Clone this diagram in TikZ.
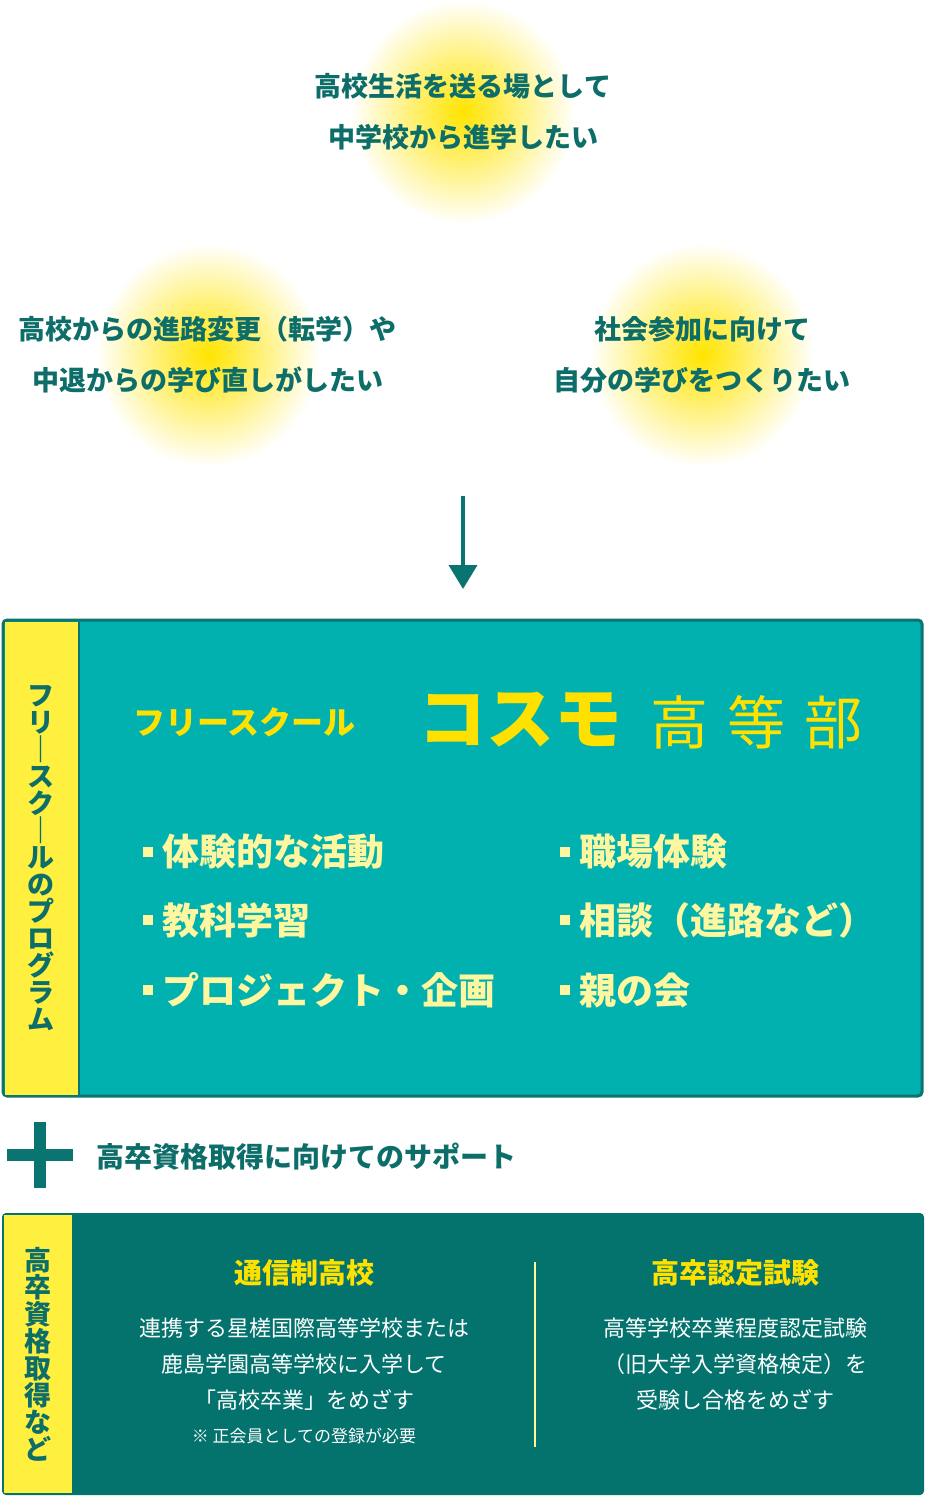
\documentclass[tikz,border=0pt]{standalone}
\usepackage{fontspec}
\newfontfamily\jp{Noto Sans CJK JP}
\usetikzlibrary{arrows.meta}
\definecolor{tealdk}{HTML}{0D6E69}
\definecolor{tealbox}{HTML}{00B1B0}
\definecolor{tealbord}{HTML}{0A7470}
\definecolor{greenbox}{HTML}{04736E}
\definecolor{stripy}{HTML}{FFF03F}
\definecolor{titley}{HTML}{FFE100}
\definecolor{paley}{HTML}{FFF6A0}
\definecolor{glowy}{HTML}{FFE400}
\newcommand{\fs}[1]{\fontsize{#1}{#1}\selectfont}
\tikzset{
 glowtxt/.style={text=tealdk, font=\jp\bfseries\fs{27}, align=center, inner sep=0pt},
 listtxt/.style={text=paley, font=\jp\bfseries\fs{37}, anchor=west, inner sep=0pt},
 vtxt/.style={text=tealdk, font=\jp\bfseries\fs{27}, align=center, inner sep=0pt},
 head/.style={text=titley, font=\jp\bfseries\fs{28}, inner sep=0pt},
 body/.style={text=white, font=\jp\fs{22}, inner sep=0pt},
}
\begin{document}
\begin{tikzpicture}[x=1pt,y=-1pt]
\useasboundingbox (0,0) rectangle (926,1497);
% glows
\foreach \cx/\cy in {463/112,208/355,702/355}{
 \shade[inner color=glowy, outer color=white] (\cx,\cy) circle (112);
}
\node[glowtxt] (g1) at (463,112) {高校生活を送る場として\\[24pt]中学校から進学したい};
\node[glowtxt] (g2) at (208,355) {高校からの進路変更（転学）や\\[24pt]中退からの学び直しがしたい};
\node[glowtxt] (g3) at (702,355) {社会参加に向けて\\[24pt]自分の学びをつくりたい};
% arrow
\coordinate (a1) at (463,496);
\coordinate (a2) at (463,589);
\draw[tealbord, line width=4pt, -{Triangle[width=28pt,length=24pt]}] (a1) -- (a2);
% top box
\draw[fill=tealbox, draw=tealbord, line width=3pt, rounded corners=4pt] (3,620) rectangle (922,1096);
\fill[stripy] (4.5,621.5) rectangle (78,1094.5);
\draw[tealbord, line width=2pt] (79,621.5) -- (79,1094.5);
\node[vtxt] (v1) at (41,858) {フ\\リ\\｜\\ス\\ク\\｜\\ル\\の\\プ\\ロ\\グ\\ラ\\ム};
\node[text=titley, font=\jp\bfseries\fs{32}, anchor=west, inner sep=0pt] (t1) at (133,722) {フリースクール};
\node[text=titley, font=\jp\bfseries\fs{68}, anchor=west, inner sep=0pt] (t2) at (418,720) {コスモ};
\node[text=titley, font=\jp\fs{58}, anchor=west, inner sep=0pt] (t3) at (650,722) {高\,\,等\,\,部};
\foreach \y/\txt [count=\i] in {852/体験的な活動,920/教科学習,990/プロジェクト・企画}{
 \fill[paley] (143,\y-5) rectangle ++(10,10);
 \node[listtxt] (l\i) at (162,\y) {\txt};
}
\foreach \y/\txt [count=\i] in {852/職場体験,920/相談（進路など）,990/親の会}{
 \fill[paley] (560,\y-5) rectangle ++(10,10);
 \node[listtxt] (r\i) at (579,\y) {\txt};
}
% plus
\fill[tealbord] (7,1149) rectangle (73,1161);
\fill[tealbord] (34,1122) rectangle (46,1188);
\node[text=tealdk, font=\jp\bfseries\fs{28}, anchor=west, inner sep=0pt] (sup) at (96,1157) {高卒資格取得に向けてのサポート};
% bottom box
\fill[greenbox, rounded corners=4pt] (2,1213) rectangle (924,1495);
\fill[stripy] (4,1215) rectangle (72,1493);
\node[vtxt] (v2) at (38,1354) {高\\卒\\資\\格\\取\\得\\な\\ど};
\coordinate (d1) at (535,1262);
\coordinate (d2) at (535,1447);
\draw[paley, line width=2.5pt] (d1) -- (d2);
\node[head] (h1) at (304,1273) {通信制高校};
\node[head] (h2) at (735,1273) {高卒認定試験};
\node[body] (b1) at (304,1328) {連携する星槎国際高等学校または};
\node[body] (b2) at (304,1364) {鹿島学園高等学校に入学して};
\node[body] (b3) at (304,1400) {「高校卒業」をめざす};
\node[body, font=\jp\fs{17}] (b4) at (304,1436) {※ 正会員としての登録が必要};
\node[body] (c1) at (735,1328) {高等学校卒業程度認定試験};
\node[body] (c2) at (735,1364) {（旧大学入学資格検定）を};
\node[body] (c3) at (735,1400) {受験し合格をめざす};
\end{tikzpicture}
\end{document}
